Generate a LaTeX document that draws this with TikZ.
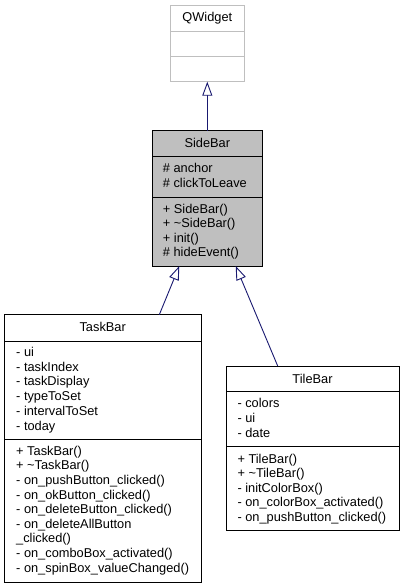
\documentclass[tikz,border=0pt]{standalone}
\usepackage{fontspec}
\setmainfont{Liberation Sans}
\usetikzlibrary{arrows.meta}
\definecolor{edgeblue}{HTML}{191970}
\definecolor{lightgrey}{HTML}{BFBFBF}
\tikzset{
  umlbox/.style={draw=black, line width=1pt, inner sep=0pt, outer sep=0pt},
  greybox/.style={draw=lightgrey, line width=1pt, inner sep=0pt, outer sep=0pt},
  txt/.style={anchor=base west, inner sep=0pt, font=\fontsize{12.8}{14.6}\selectfont},
  ttl/.style={anchor=base, inner sep=0pt, font=\fontsize{12.8}{14.6}\selectfont},
  inherit/.style={draw=edgeblue, line width=0.9pt, -{Triangle[open, length=14pt, width=10pt, fill=white]}}
}
\begin{document}
\begin{tikzpicture}[x=1pt,y=-1pt]
\useasboundingbox (0,0) rectangle (405,588);
% QWidget
\node[greybox, minimum width=74pt, minimum height=76pt, anchor=north west] (qw) at (170.3,5.7) {};
\draw[lightgrey, line width=1pt] (170.3,31.7) -- (244.3,31.7) (170.3,57) -- (244.3,57);
\node[ttl] (qwt) at (207.3,21.5) {QWidget};
% SideBar
\node[umlbox, fill=lightgrey, minimum width=110.7pt, minimum height=135pt, anchor=north west] (sb) at (152,131) {};
\draw[black, line width=1pt] (152,156.7) -- (262.7,156.7) (152,197) -- (262.7,197);
\node[ttl] (sbt) at (207.3,147.3) {SideBar};
\foreach \t [count=\i] in {\# anchor, \# clickToLeave}
  \node[txt] (sba\i) at (162.7,172.5+14.6*\i-14.6) {\t};
\foreach \t [count=\i] in {+ SideBar(), + \textasciitilde SideBar(), + init(), \# hideEvent()}
  \node[txt] (sbm\i) at (162.7,213.2+14.5*\i-14.5) {\t};
% TaskBar
\node[umlbox, fill=white, minimum width=197.3pt, minimum height=268pt, anchor=north west] (tb) at (4,314.7) {};
\draw[black, line width=1pt] (4,341.7) -- (201.3,341.7) (4,439.7) -- (201.3,439.7);
\node[ttl] (tbt) at (102.7,331.2) {TaskBar};
\foreach \t [count=\i] in {- ui, - taskIndex, - taskDisplay, - typeToSet, - intervalToSet, - today}
  \node[txt] (tba\i) at (16,356.2+14.85*\i-14.85) {\t};
\foreach \t [count=\i] in {+ TaskBar(), + \textasciitilde TaskBar(), - on\_pushButton\_clicked(), - on\_okButton\_clicked(), - on\_deleteButton\_clicked(), - on\_deleteAllButton, \_clicked(), - on\_comboBox\_activated(), - on\_spinBox\_valueChanged()}
  \node[txt] (tbm\i) at (16,455.2+14.63*\i-14.63) {\t};
% TileBar
\node[umlbox, fill=white, minimum width=173pt, minimum height=164pt, anchor=north west] (tl) at (226,366) {};
\draw[black, line width=1pt] (226,391) -- (399,391) (226,446) -- (399,446);
\node[ttl] (tlt) at (312.5,383.2) {TileBar};
\foreach \t [count=\i] in {- colors, - ui, - date}
  \node[txt] (tla\i) at (237.3,407.8+14.7*\i-14.7) {\t};
\foreach \t [count=\i] in {+ TileBar(), + \textasciitilde TileBar(), - initColorBox(), - on\_colorBox\_activated(), - on\_pushButton\_clicked()}
  \node[txt] (tlm\i) at (237.3,463.5+14.4*\i-14.4) {\t};
% connection points
\coordinate (qwbot) at (207.3,81.7);
\coordinate (sbtop) at (207.3,131);
\coordinate (sbbl) at (179.3,266);
\coordinate (sbbr) at (235.7,266);
\coordinate (tbtop) at (159.3,314.7);
\coordinate (tltop) at (277.7,366);
\draw[inherit] (sbtop) -- (qwbot);
\draw[inherit] (tbtop) -- (sbbl);
\draw[inherit] (tltop) -- (sbbr);
\end{tikzpicture}
\end{document}
